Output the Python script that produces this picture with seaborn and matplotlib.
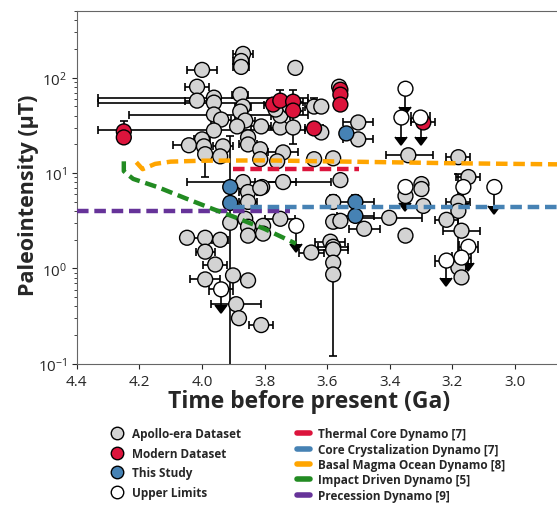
import numpy as np
import pandas as pd
import matplotlib
matplotlib.use("Agg")
import matplotlib.pyplot as plt
import seaborn as sns
from matplotlib.lines import Line2D

# ========= DATA =========
# Apollo-era dataset: age (Ga), paleointensity (uT), errors
apollo_t = [3.869, 3.875, 3.875, 4.000, 4.016, 4.016, 3.962, 3.962, 3.878, 3.869,
            3.878, 3.962, 3.939, 3.862, 3.888, 3.811, 3.750, 3.962, 4.000, 4.042,
            3.994, 3.933, 3.853, 3.853, 3.814, 3.990, 3.942, 3.741, 3.814, 3.760,
            3.702, 3.562, 3.642, 3.619, 3.501, 3.501, 3.750, 3.709, 3.619, 3.341,
            3.181, 3.642, 3.581, 3.741, 3.869, 3.808, 3.853, 3.853, 3.558, 3.149,
            3.299, 3.299, 3.350, 3.293, 3.181, 3.181, 3.581, 3.750, 3.581, 3.558,
            3.402, 3.482, 3.350, 3.219, 3.171, 3.651, 3.590, 3.581, 3.581, 3.581,
            3.581, 3.181, 3.171, 3.910, 3.862, 3.853, 3.805, 4.048, 3.990, 3.942,
            3.853, 3.805, 3.990, 3.958, 3.901, 3.853, 3.990, 3.891, 3.882, 3.811,
            3.814, 3.765, 3.720]
apollo_b = [178, 150, 130, 121, 80.6, 57.6, 61.9, 54.9, 66.6, 49.9,
            44.2, 41.2, 36.5, 35.6, 30.9, 30.9, 30.1, 28.0, 22.6, 19.6,
            19.1, 19.1, 23.7, 20.0, 17.8, 15.8, 15.0, 16.5, 14.0, 13.3,
            127, 80.6, 49.9, 49.9, 34.0, 22.6, 40.2, 30.1, 26.7, 15.4,
            14.7, 14.0, 14.3, 8.06, 8.06, 7.15, 6.34, 4.99, 8.45, 9.1,
            7.68, 6.81, 5.76, 4.53, 4.99, 4.02, 4.99, 3.32, 3.09, 3.16,
            3.40, 2.61, 2.21, 3.24, 2.49, 1.47, 1.91, 1.69, 1.58, 1.15,
            0.866, 1.02, 0.806, 3.02, 3.32, 2.74, 2.80, 2.10, 2.10, 2.00,
            2.21, 2.32, 1.50, 1.10, 0.846, 0.75, 0.768, 0.422, 0.301, 0.255,
            6.98, 46.4, 50.0]
apollo_dt_lo = [0.032, 0.026, 0.026, 0.048, 0.038, 0.038, 0.30, 0.30, 0.026, 0.026,
                0, 0.30, 0.032, 0.032, 0, 0.032, 0.048, 0.29, 0.026, 0.05,
                0, 0.032, 0, 0.03, 0, 0, 0, 0.048, 0, 0,
                0, 0, 0.03, 0, 0.048, 0.048, 0.03, 0, 0, 0.08,
                0.038, 0, 0, 0.04, 0.28, 0, 0.03, 0.03, 0, 0.038,
                0, 0, 0, 0, 0.038, 0, 0, 0.048, 0, 0,
                0.105, 0.05, 0, 0.038, 0.058, 0.04, 0.048, 0.048, 0.048, 0,
                0, 0, 0, 0, 0, 0, 0, 0.10, 0, 0.026,
                0, 0, 0.03, 0.038, 0, 0, 0.048, 0.08, 0, 0.038,
                0, 0, 0]
apollo_dt_hi = [0.032, 0.026, 0.026, 0.048, 0.038, 0.038, 0.37, 0.37, 0.026, 0.026,
                0, 0.27, 0.032, 0.032, 0, 0.032, 0.048, 0.37, 0.026, 0.05,
                0, 0.032, 0, 0.03, 0, 0, 0, 0.048, 0, 0,
                0, 0, 0.03, 0, 0.048, 0.048, 0.03, 0, 0, 0.07,
                0.038, 0, 0, 0.09, 0.18, 0, 0.03, 0.03, 0, 0.038,
                0, 0, 0, 0, 0.038, 0, 0, 0.048, 0, 0,
                0.10, 0.05, 0, 0.038, 0.058, 0.04, 0.048, 0.048, 0.048, 0,
                0, 0, 0, 0, 0, 0, 0, 0.02, 0, 0.026,
                0, 0, 0.03, 0.038, 0, 0, 0.048, 0.08, 0, 0.038,
                0, 0, 0]
apollo_db_lo = [0] * 25 + [6.7] + [0] * 11 + [10.1] + [0] * 17 + [3.09] + [0] * 14 + [0.745] + [0] * 2 + [2.95] + [0] * 19
apollo_db_hi = [0] * 25 + [9.7] + [0] * 6 + [12] + [0] * 4 + [16.3] + [0] * 10 + [0.8] + [0] * 6 + [5.8, 0.9] + [0] * 16 + [21.3] + [0] * 19

# Modern dataset
modern_t = [4.25, 4.25, 3.773, 3.75, 3.709, 3.709, 3.642, 3.558, 3.558, 3.558, 3.293]
modern_b = [27.4, 23.7, 52.4, 57.6, 56.2, 45.3, 29.4, 75.0, 66.6, 52.4, 34.0]
modern_dt = [0, 0, 0.03, 0.03, 0.03, 0.03, 0.03, 0, 0, 0, 0.038]
modern_db_hi = [7.4, 0, 0, 17, 18, 0, 0, 0, 0, 0, 0]

# This study
study_t = [3.91, 3.91, 3.539, 3.51, 3.51]
study_b = [7.15, 4.87, 26.1, 4.99, 3.56]
study_dt = [0, 0, 0, 0.058, 0.058]
study_db_hi = [0, 0, 0, 0.9, 0]

# Upper limits
limit_t = [3.35, 3.363, 3.302, 3.939, 3.699, 3.35, 3.165, 3.066, 3.149, 3.219, 3.171]
limit_b = [76.8, 38.3, 38.3, 0.604, 2.80, 7.15, 7.15, 7.15, 1.69, 1.21, 1.30]
limit_arrow = [26.9, 14.6, 14.6, 0.19, 0.98, 2.3, 2.3, 2.6, 0.56, 0.42, 0.45]
limit_dt = [0, 0, 0.03, 0.038, 0, 0, 0, 0, 0.03, 0.038, 0.03]

# Dynamo models
precession_t = [4.4, 3.72]
precession_b = [4.0, 4.0]
core_t = [3.90, 2.80]
core_b = [4.43, 4.43]
thermal_t = [3.90, 3.50]
thermal_b = [11, 11]
basal_t = [4.21, 4.19, 4.15, 4.10, 4.0, 3.8, 3.6, 3.4, 3.2, 3.0, 2.8]
basal_b = [13.0, 11.0, 12.5, 13.2, 13.5, 13.6, 13.3, 13.0, 12.7, 12.5, 12.3]
impact_t = [4.25, 4.25, 4.24, 4.22, 4.14, 4.05, 3.965, 3.90, 3.80, 3.70]
impact_b = [13.3, 10.5, 9.8, 8.7, 7.1, 5.4, 4.2, 3.5, 2.6, 1.82]

COL_GRAY = "#d3d3d3"
COL_RED = "#dc143c"
COL_BLUE = "#4682b4"
COL_ORANGE = "#ffa500"
COL_GREEN = "#228b22"
COL_PURPLE = "#663399"

# ========= STYLE =========
sns.set_style("ticks")
plt.rcParams["font.family"] = ["Open Sans", "DejaVu Sans"]
plt.rcParams["mathtext.default"] = "regular"

fig = plt.figure(figsize=(5.57, 5.06), dpi=100)
ax = fig.add_axes([0.138, 0.279, 0.899, 0.697])

# ========= ERRORBARS =========
eb = dict(fmt="none", ecolor="black", elinewidth=1.2, capsize=3, capthick=1.2, zorder=2)
ax.errorbar(apollo_t, apollo_b, xerr=[apollo_dt_lo, apollo_dt_hi],
            yerr=[apollo_db_lo, apollo_db_hi], **eb)
ax.errorbar(modern_t, modern_b, xerr=modern_dt,
            yerr=[[0] * len(modern_b), modern_db_hi], **eb)
ax.errorbar(study_t, study_b, xerr=study_dt,
            yerr=[[0] * len(study_b), study_db_hi], **eb)
eb_lim = dict(eb, capsize=4)
lim_cont = ax.errorbar(limit_t, limit_b, xerr=limit_dt, yerr=limit_arrow,
                       uplims=True, **eb_lim)
# arrow heads black
for cap in lim_cont[1]:
    cap.set_color("black")
    cap.set_markerfacecolor("black")
    cap.set_markeredgecolor("black")

# ========= POINTS =========
df = pd.concat([
    pd.DataFrame({"t": apollo_t, "b": apollo_b, "set": "Apollo-era Dataset"}),
    pd.DataFrame({"t": modern_t, "b": modern_b, "set": "Modern Dataset"}),
    pd.DataFrame({"t": study_t, "b": study_b, "set": "This Study"}),
    pd.DataFrame({"t": limit_t, "b": limit_b, "set": "Upper Limits"}),
], ignore_index=True)
palette = {"Apollo-era Dataset": COL_GRAY, "Modern Dataset": COL_RED,
           "This Study": COL_BLUE, "Upper Limits": "white"}
sns.scatterplot(data=df, x="t", y="b", hue="set", palette=palette, s=115,
                edgecolor="black", linewidth=1, legend=False, zorder=3, ax=ax)

# ========= MODEL LINES =========
models = [
    ("Precession Dynamo [9]", precession_t, precession_b, COL_PURPLE),
    ("Core Crystalization Dynamo [7]", core_t, core_b, COL_BLUE),
    ("Thermal Core Dynamo [7]", thermal_t, thermal_b, COL_RED),
    ("Basal Magma Ocean Dynamo [8]", basal_t, basal_b, COL_ORANGE),
    ("Impact Driven Dynamo [5]", impact_t, impact_b, COL_GREEN),
]
for name, t, b, c in models:
    sns.lineplot(x=t, y=b, color=c, lw=3.2, linestyle=(0, (2.6, 1.3)),
                 estimator=None, sort=False, ax=ax, zorder=4)

ax.set_yscale("log")
ax.set_xlim(4.4, 2.8)
ax.set_ylim(0.1, 500)
ax.set_xticks([4.4, 4.2, 4.0, 3.8, 3.6, 3.4, 3.2, 3.0])
ax.set_xticklabels(["4.4", "4.2", "4.0", "3.8", "3.6", "3.4", "3.2", "3.0"])
ax.tick_params(labelsize=11)
for s in ax.spines.values():
    s.set_color("0.4")
ax.set_xlabel("Time before present (Ga)", fontsize=16.5, fontweight="bold")
ax.set_ylabel("Paleointensity (\u03bcT)", fontsize=15.5, fontweight="bold")
ax.xaxis.set_label_coords(0.4635, -0.072)
ax.yaxis.set_label_coords(-0.075, 0.48)

# ========= LEGENDS =========
dset_handles = [Line2D([], [], ls="", marker="o", ms=9, mfc=palette[k], mec="black", mew=1)
                for k in palette]
fig.legend(dset_handles, list(palette.keys()), loc="upper left",
           bbox_to_anchor=(0.188, 0.165), frameon=False, borderpad=0,
           handlelength=1.0, handletextpad=0.8, labelspacing=0.55,
           prop={"size": 8.5, "weight": "bold"})

model_order = [models[2], models[1], models[3], models[4], models[0]]
model_handles = [Line2D([], [], color=c, lw=4) for _, _, _, c in model_order]
fig.legend(model_handles, [m[0] for m in model_order], loc="upper left",
           bbox_to_anchor=(0.523, 0.165), frameon=False, borderpad=0,
           handlelength=1.1, handletextpad=0.7, labelspacing=0.2,
           prop={"size": 8.5, "weight": "bold"})

plt.savefig("out.png", dpi=100)
plt.close()
